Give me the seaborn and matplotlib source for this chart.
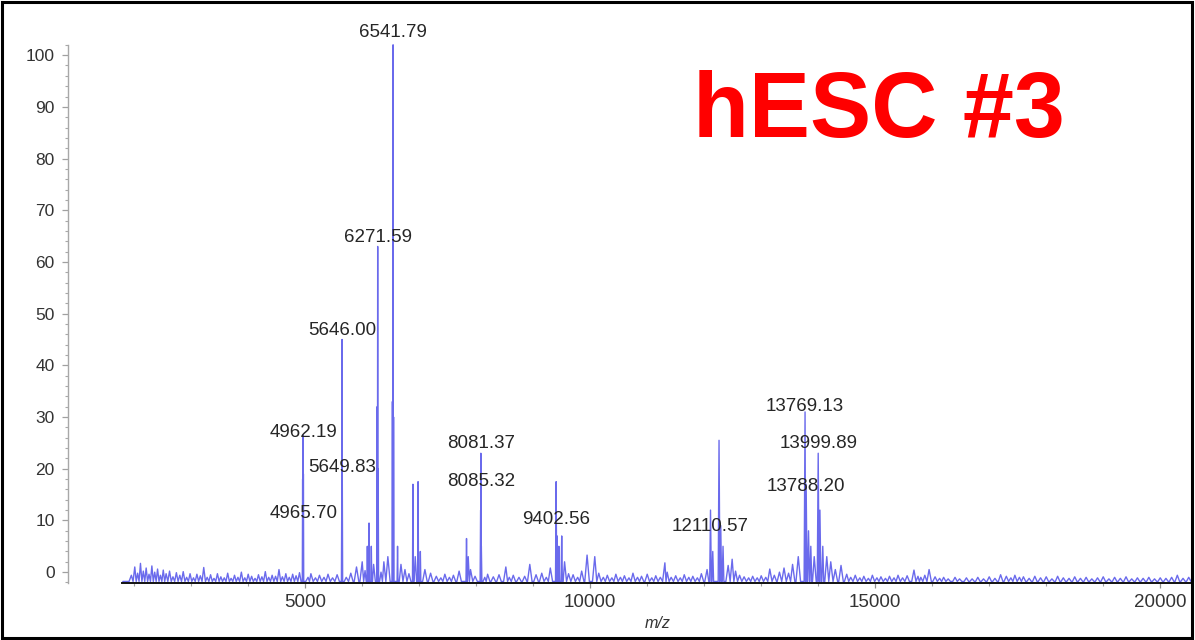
import numpy as np
import pandas as pd
import matplotlib
matplotlib.use("Agg")
import matplotlib.pyplot as plt
from matplotlib.patches import Rectangle
from matplotlib.ticker import MultipleLocator, FixedLocator
import seaborn as sns

# ---------------- data ----------------
# low-mass baseline noise (intensity on the plotted scale; baseline sits near -1.8)
noise_mz = [1950, 2010, 2060, 2110, 2160, 2210, 2260, 2310, 2360, 2410, 2460, 2510,
            2560, 2620, 2680, 2740, 2800, 2860, 2920, 2980, 3040, 3100, 3160, 3220,
            3280, 3340, 3400, 3460, 3520, 3580, 3640, 3700, 3760, 3820, 3880, 3940,
            4000, 4060, 4120, 4180, 4240, 4300, 4360, 4420, 4480, 4540, 4600, 4660,
            4720, 4780, 4840, 4900]
noise_int = [-0.6, 1.0, -0.2, 1.7, 0.2, 0.8, -0.4, 1.2, 0.0, 0.6, -0.6, 0.4,
             -0.3, 0.2, -0.9, -0.1, -0.6, 0.1, -1.0, -0.3, -1.1, -0.4, -0.7, 0.9,
             -1.0, -0.5, -1.2, -0.3, -0.9, -1.1, -0.2, -1.2, -0.6, -1.0, 0.0, -1.1,
             -0.4, -0.8, -1.2, -0.5, -0.9, 0.1, -1.0, -0.6, -0.8, 0.5, -0.9, -0.3,
             -1.0, -0.4, -0.7, -0.1]

# peaks and the baseline beyond 4950
peak_mz = [
    4955, 4962.19, 4968, 5050, 5100, 5180, 5250, 5330, 5400, 5480, 5560,
    5642, 5646.00, 5650, 5720, 5800, 5900, 6000, 6050, 6090, 6120, 6160, 6200,
    6262, 6271.59, 6280, 6330, 6380, 6450,
    6530, 6541.79, 6550, 6620, 6680, 6750, 6820,
    6890, 6930, 6980, 7020, 7100, 7200, 7300, 7380, 7450, 7530, 7600, 7700,
    7830, 7860, 7900, 7980, 8078, 8081.37, 8090,
    8150, 8200, 8300, 8400, 8520, 8580, 8650, 8750, 8850, 8940, 9050, 9150, 9230, 9300,
    9402.56, 9420, 9450, 9500, 9550, 9620,
    9700, 9780, 9850, 9945, 10080, 10150, 10230, 10300, 10380, 10450, 10530,
    10600, 10680, 10750, 10830, 10900, 11000, 11080, 11150, 11230,
    11310, 11350, 11420, 11500, 11580, 11650, 11730, 11800, 11880, 11950, 12050,
    12110.57, 12150, 12260, 12290, 12330, 12420, 12490, 12550, 12620, 12700, 12780,
    12850, 12930, 13000, 13080, 13150, 13230, 13320, 13400, 13480, 13550, 13650,
    13769.13, 13788.20, 13830, 13870, 13930, 13999.89, 14030, 14080, 14150, 14220,
    14300, 14400, 14500, 14570, 14650, 14730, 14800, 14880, 14950, 15030, 15100,
    15180, 15250, 15330, 15400, 15480, 15560,
    15680, 15750, 15800, 15870, 15945, 16050, 16130, 16200, 16280, 16400, 16480,
    16600, 16700, 16800, 16900, 17000, 17100, 17200, 17300, 17380, 17450, 17530,
    17600, 17700, 17800, 17900, 18000, 18100, 18200, 18300, 18400, 18500, 18600,
    18700, 18800, 18900, 19000, 19100, 19200, 19300, 19400, 19500, 19600, 19700,
    19800, 19900, 20000, 20100, 20200, 20300, 20400, 20500,
]
peak_int = [
    18, 26.5, 19, -1.0, -0.3, -1.1, -0.6, -1.0, -0.4, -1.1, -0.5,
    15, 45, 20, -1.0, -0.2, 1.0, 2.0, 0.3, 5, 9.5, 5, 1.5,
    32, 63, 20, 0.0, 2.0, 3.0,
    33, 102, 30, 5, 1.5, 0.5, -0.3,
    17, 3, 17.5, 4, 0.5, -0.2, -0.8, -1.1, -0.4, -1.0, -0.6, 0.2,
    6.5, 3, 0.5, -0.8, 12, 23, 5,
    -1.0, -0.4, -0.9, -0.5, 1.0, -1.0, -0.6, -1.0, -0.8, 1.5, -0.5, -0.2, -1.0, 0.8,
    17.5, 7, 5, 7, 2, -0.3,
    -0.5, -1.0, 0.2, 3.3, 3.0, -0.2, -1.0, -0.6, -1.1, -0.4, -1.0,
    -0.7, -1.1, -0.2, -1.0, -0.8, -0.4, -1.1, -0.7, -1.0,
    1.8, 0.0, -1.0, -0.7, -1.1, -0.5, -1.0, -0.8, -1.1, -0.3, 0.5,
    12, 4, 25.5, 9, 5, 1.3, 2.5, 0.2, -0.6, -0.9, -1.1,
    -0.8, -1.1, -0.7, -1.0, 0.6, -0.6, 0.0, 0.8, -0.2, 1.5, 3,
    31, 17, 8, 5, 3, 23, 12, 5, 3, 2,
    0.5, 1.3, -0.4, -1.0, -0.6, -1.1, -0.8, -1.2, -0.6, -1.1, -0.9,
    -1.2, -0.8, -1.1, -0.6, -1.1, -0.7,
    0.4, -0.8, -1.0, -0.6, 0.5, -0.9, -1.2, -1.0, -1.3, -1.0, -1.3,
    -1.1, -1.3, -1.0, -1.3, -0.9, -1.2, -0.5, -0.8, -1.1, -0.6, -1.0,
    -0.9, -1.2, -0.8, -1.1, -0.9, -1.3, -0.8, -1.1, -1.2, -0.9, -1.2,
    -1.0, -1.3, -1.1, -0.9, -1.3, -1.0, -1.2, -0.9, -1.3, -1.1, -1.2,
    -1.0, -1.3, -1.1, -1.2, -1.0, -0.6, -1.2, -1.0,
]

label_mz = [6541.79, 6271.59, 5646.00, 4962.19, 5649.83, 4965.70,
            8081.37, 8085.32, 9402.56, 12110.57, 13769.13, 13999.89, 13788.20]
label_text = ["6541.79", "6271.59", "5646.00", "4962.19", "5649.83", "4965.70",
              "8081.37", "8085.32", "9402.56", "12110.57", "13769.13", "13999.89", "13788.20"]
label_y = [104.4, 64.8, 46.8, 27.1, 20.3, 11.4,
           24.8, 17.6, 10.1, 8.9, 32.1, 24.8, 16.6]

y_ticks = list(range(0, 101, 10))
x_ticks = [5000, 10000, 15000, 20000]
title_text = "hESC #3"
x_label = "m/z"

# ---------------- build the profile line from the peak lists ----------------
baseline = -1.8
all_mz = list(noise_mz) + list(peak_mz)
all_int = list(noise_int) + list(peak_int)
order = np.argsort(all_mz)
mz_s = [all_mz[i] for i in order]
in_s = [all_int[i] for i in order]
xs, ys = [1800], [baseline]
for k, (m, h) in enumerate(zip(mz_s, in_s)):
    w = 0.0012 * m if h >= 4 else 40.0
    lo = (mz_s[k - 1] + m) / 2 if k > 0 else m - w
    hi = (mz_s[k + 1] + m) / 2 if k < len(mz_s) - 1 else m + w
    xs += [max(m - w, lo), m, min(m + w, hi)]
    ys += [baseline, h, baseline]
xs.append(20700)
ys.append(baseline)
df = pd.DataFrame({"mz": xs, "intensity": ys})

# ---------------- figure ----------------
sns.set_theme(style="white")
plt.rcParams["font.family"] = ["Liberation Sans", "DejaVu Sans"]

W, H = 1195, 640
fig = plt.figure(figsize=(W / 100, H / 100), dpi=100)
left_px, right_px, top_px, bottom_px = 122, 1193, 20, 583
ax = fig.add_axes([left_px / W, 1 - bottom_px / H,
                   (right_px - left_px) / W, (bottom_px - top_px) / H])

sns.lineplot(data=df, x="mz", y="intensity", sort=False, estimator=None,
             color="#6a6aec", linewidth=1.0, ax=ax)

ax.set_xlim(1786, 20575)
ax.set_ylim(-2.1, 106.8)

# y axis
ax.set_yticks(y_ticks)
ax.yaxis.set_minor_locator(FixedLocator(list(range(-2, 103, 2))))
ax.tick_params(axis="y", which="major", direction="out", length=4, width=0.9,
               color="#a0a0a0", labelsize=12.5, labelcolor="#333333", pad=5.5, left=True)
ax.tick_params(axis="y", which="minor", direction="out", length=2.2, width=0.8,
               color="#a8a8a8", left=True)
ax.spines["left"].set_position(("outward", (left_px - 68) * 0.72))
ax.spines["left"].set_color("#a8a8a8")
ax.spines["left"].set_linewidth(1.0)
ax.spines["left"].set_bounds(-2.1, 102)

# x axis
ax.spines["bottom"].set_color("#111111")
ax.spines["bottom"].set_linewidth(1.4)
ax.set_xticks(x_ticks)
ax.xaxis.set_minor_locator(MultipleLocator(1000))
ax.tick_params(axis="x", which="major", direction="out", length=3.5, width=0.9,
               color="#909090", labelsize=13.5, labelcolor="#333333", pad=4.5, bottom=True)
ax.tick_params(axis="x", which="minor", direction="out", length=2.5, width=0.8,
               color="#a0a0a0", bottom=True)

for s in ["top", "right"]:
    ax.spines[s].set_visible(False)
ax.set_xlabel("")
ax.set_ylabel("")
ax.grid(False)

# peak labels
for m, t, yy in zip(label_mz, label_text, label_y):
    ax.text(m, yy, t, ha="center", va="center", fontsize=13.5, color="#262626")

# axis label and title
fig.text(658 / W, 1 - 623 / H, x_label, ha="center", va="center",
         fontsize=11.5, style="italic", color="#333333")
fig.text(879 / W, 1 - 137 / H, title_text, ha="center", va="baseline",
         fontsize=66, fontweight="bold", color="#ff0000")

# outer frame
fig.patches.append(Rectangle((2 / W, 2 / H), (W - 5) / W, (H - 4) / H,
                             transform=fig.transFigure, fill=False,
                             edgecolor="black", linewidth=2.2))

fig.savefig("out.png", dpi=100)
